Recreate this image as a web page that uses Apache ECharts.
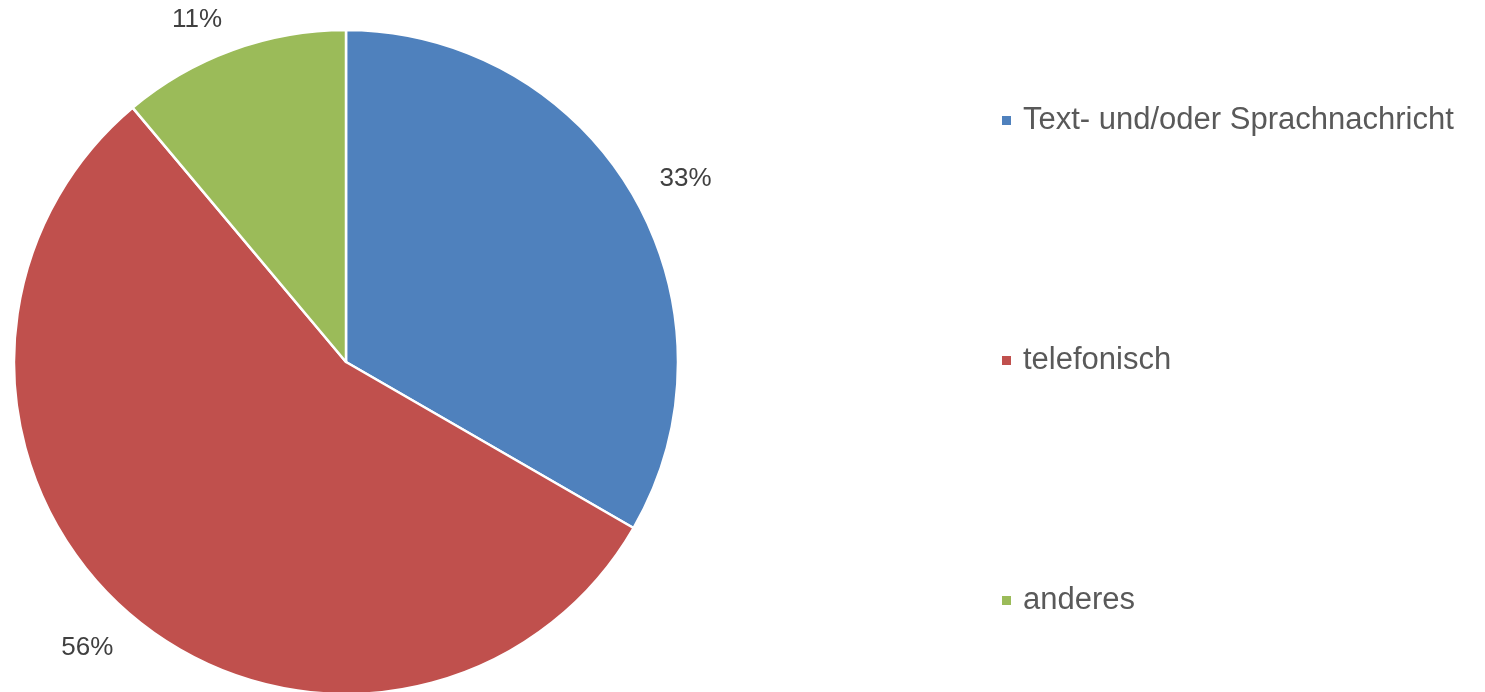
<!DOCTYPE html>
<html>
<head>
<meta charset="utf-8">
<script src="https://cdn.jsdelivr.net/npm/echarts@6/dist/echarts.min.js"></script>
<style>html,body{margin:0;padding:0;background:#fff}#c{width:1485px;height:692px}</style>
</head>
<body>
<div id="c"></div>
<script>
const categories = ['Text- und/oder Sprachnachricht', 'telefonisch', 'anderes'];
const values = [3, 5, 1];
const colors = ['#4F81BD', '#C0504D', '#9BBB59'];

const CX = 346, CY = 362, R = 332, LABEL_GAP = 30;
const total = values.reduce((a, b) => a + b, 0);
// mid angle (radians, clockwise from 12 o'clock) for each slice
const midAngles = [];
let acc = 0;
values.forEach(v => { midAngles.push((acc + v / 2) / total * 2 * Math.PI); acc += v; });

const data = categories.map((n, i) => ({ name: n, value: values[i], itemStyle: { color: colors[i] } }));

const chart = echarts.init(document.getElementById('c'));
chart.setOption({
  animation: false,
  backgroundColor: '#ffffff',
  legend: {
    orient: 'vertical',
    left: 1000,
    top: 105,
    padding: 0,
    itemGap: 209,
    itemWidth: 11,
    itemHeight: 11,
    icon: 'rect',
    selectedMode: false,
    data: categories,
    textStyle: { fontFamily: 'Liberation Sans, Arial, sans-serif', fontSize: 31, lineHeight: 31, color: '#595959', padding: [0, 0, 0, 6] }
  },
  series: [
    {
      type: 'pie',
      center: [CX, CY],
      radius: R,
      startAngle: 90,
      clockwise: true,
      percentPrecision: 0,
      avoidLabelOverlap: false,
      label: {
        show: true,
        position: 'outside',
        formatter: '{d}%',
        fontFamily: 'Liberation Sans, Arial, sans-serif',
        fontSize: 26,
        color: '#404040'
      },
      labelLine: { show: false },
      labelLayout: function (p) {
        const a = midAngles[p.dataIndex];
        const s = Math.sin(a), c = Math.cos(a);
        return {
          x: CX + (R + LABEL_GAP) * s,
          y: CY - (R + LABEL_GAP) * c + (c >= 0 ? 11 : -4),
          align: s >= 0 ? 'left' : 'right',
          verticalAlign: c >= 0 ? 'bottom' : 'top'
        };
      },
      itemStyle: { borderColor: '#ffffff', borderWidth: 2.5 },
      emphasis: { disabled: true },
      data: data
    }
  ]
});
</script>
</body>
</html>
